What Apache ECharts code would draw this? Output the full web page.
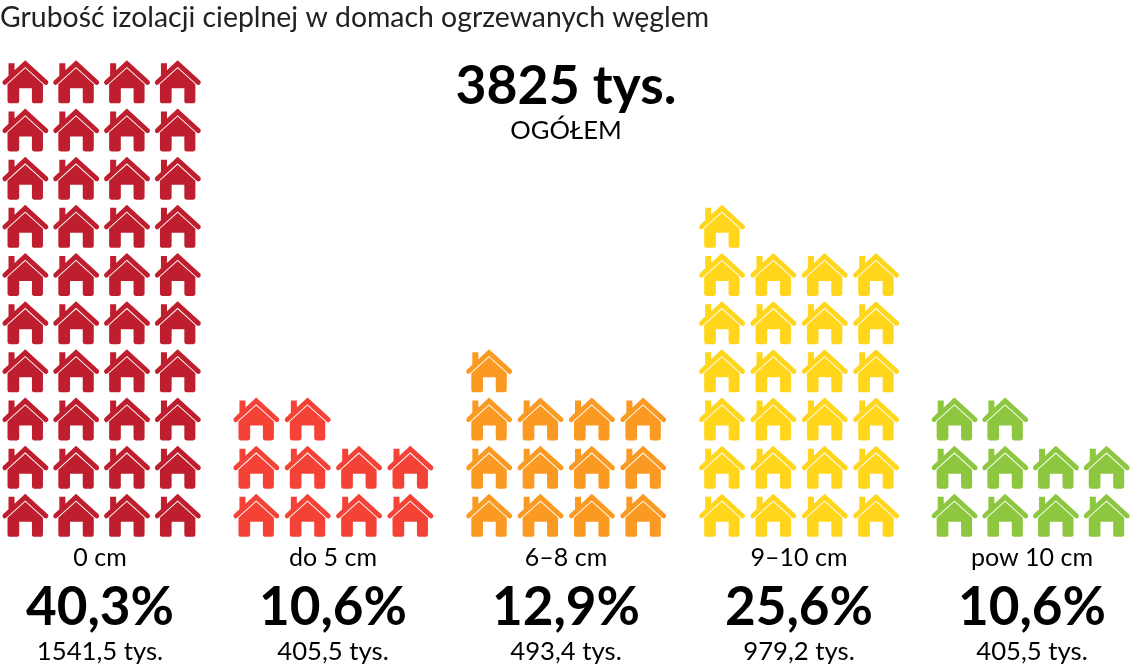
<!DOCTYPE html>
<html><head><meta charset="utf-8">
<style>html,body{margin:0;padding:0;background:#fff}#c{width:1132px;height:670px}</style>
<script src="https://cdn.jsdelivr.net/npm/echarts@6/dist/echarts.min.js"></script>
</head><body><div id="c"></div>
<script>
const titleText = 'Grubość izolacji cieplnej w domach ogrzewanych węglem';
const totalText = '3825 tys.';
const totalLabel = 'OGÓŁEM';
const categories = ['0 cm', 'do 5 cm', '6–8 cm', '9–10 cm', 'pow 10 cm'];
const houseCounts = [40, 10, 13, 25, 10];
const percents = ['40,3%', '10,6%', '12,9%', '25,6%', '10,6%'];
const thousands = ['1541,5 tys.', '405,5 tys.', '493,4 tys.', '979,2 tys.', '405,5 tys.'];
const colors = ['#BE1E2D', '#F44336', '#FB9A22', '#FFD61C', '#8DC63F'];
const columnSlots = ['1', '2', '3', '4'];
const rowSlots = ['1', '2', '3', '4', '5', '6', '7', '8', '9', '10'];

const housePath = 'path://M70,31 L138,93 Q141,98 137,103 Q132,107 127,103 L70,51 L13,103 Q8,107 4,103 Q0,98 3,93 L20,77 L20,40 L38,40 L38,61 Z ' +
  'M70,55 L123,103 L123,152 Q123,160 115,160 L98,160 Q90,160 90,152 L90,115 L52,115 L52,152 Q52,160 44,160 L25,160 Q17,160 17,152 L17,103 Z';

const slotW = 51.35, slotH = 48.17, groupStep = 232.85, firstLeft = 23.5 - slotW / 2, gridTop = 81.8 - slotH / 2;
const grid = [], xAxis = [], yAxis = [], series = [], graphic = [];
const text = (x, y, t, size, weight, color, align) => ({
  type: 'text', x, y,
  style: { text: t, fontFamily: 'Lato', fontSize: size, fontWeight: weight, fill: color || '#000',
           textAlign: align || 'center', textVerticalAlign: 'middle' }
});
categories.forEach((cat, g) => {
  grid.push({ left: firstLeft + g * groupStep, top: gridTop, width: slotW * 4, height: slotH * 10 });
  xAxis.push({ gridIndex: g, type: 'category', data: columnSlots, show: false });
  yAxis.push({ gridIndex: g, type: 'category', data: rowSlots, show: false });
  const pts = [];
  for (let i = 0; i < houseCounts[g]; i++) pts.push([i % 4, Math.floor(i / 4)]);
  series.push({
    type: 'scatter', xAxisIndex: g, yAxisIndex: g, data: pts, symbol: housePath,
    symbolSize: [46, 43], itemStyle: { color: colors[g], opacity: 1 }, silent: true, animation: false
  });
  const cx = 100 + g * 233;
  graphic.push(text(cx, 558, cat, 25, 400));
  graphic.push(text(cx, 608, percents[g], 53, 700));
  graphic.push(text(cx, 652, thousands[g], 25.7, 400));
});
graphic.push(text(0, 18, titleText, 28.4, 400, '#222', 'left'));
graphic.push(text(566, 87, totalText, 53.5, 700));
graphic.push(text(566, 131, totalLabel, 25.6, 400));

const chart = echarts.init(document.getElementById('c'), null, { renderer: 'canvas' });
chart.setOption({ animation: false, backgroundColor: '#fff', grid, xAxis, yAxis, series, graphic });
</script></body></html>
